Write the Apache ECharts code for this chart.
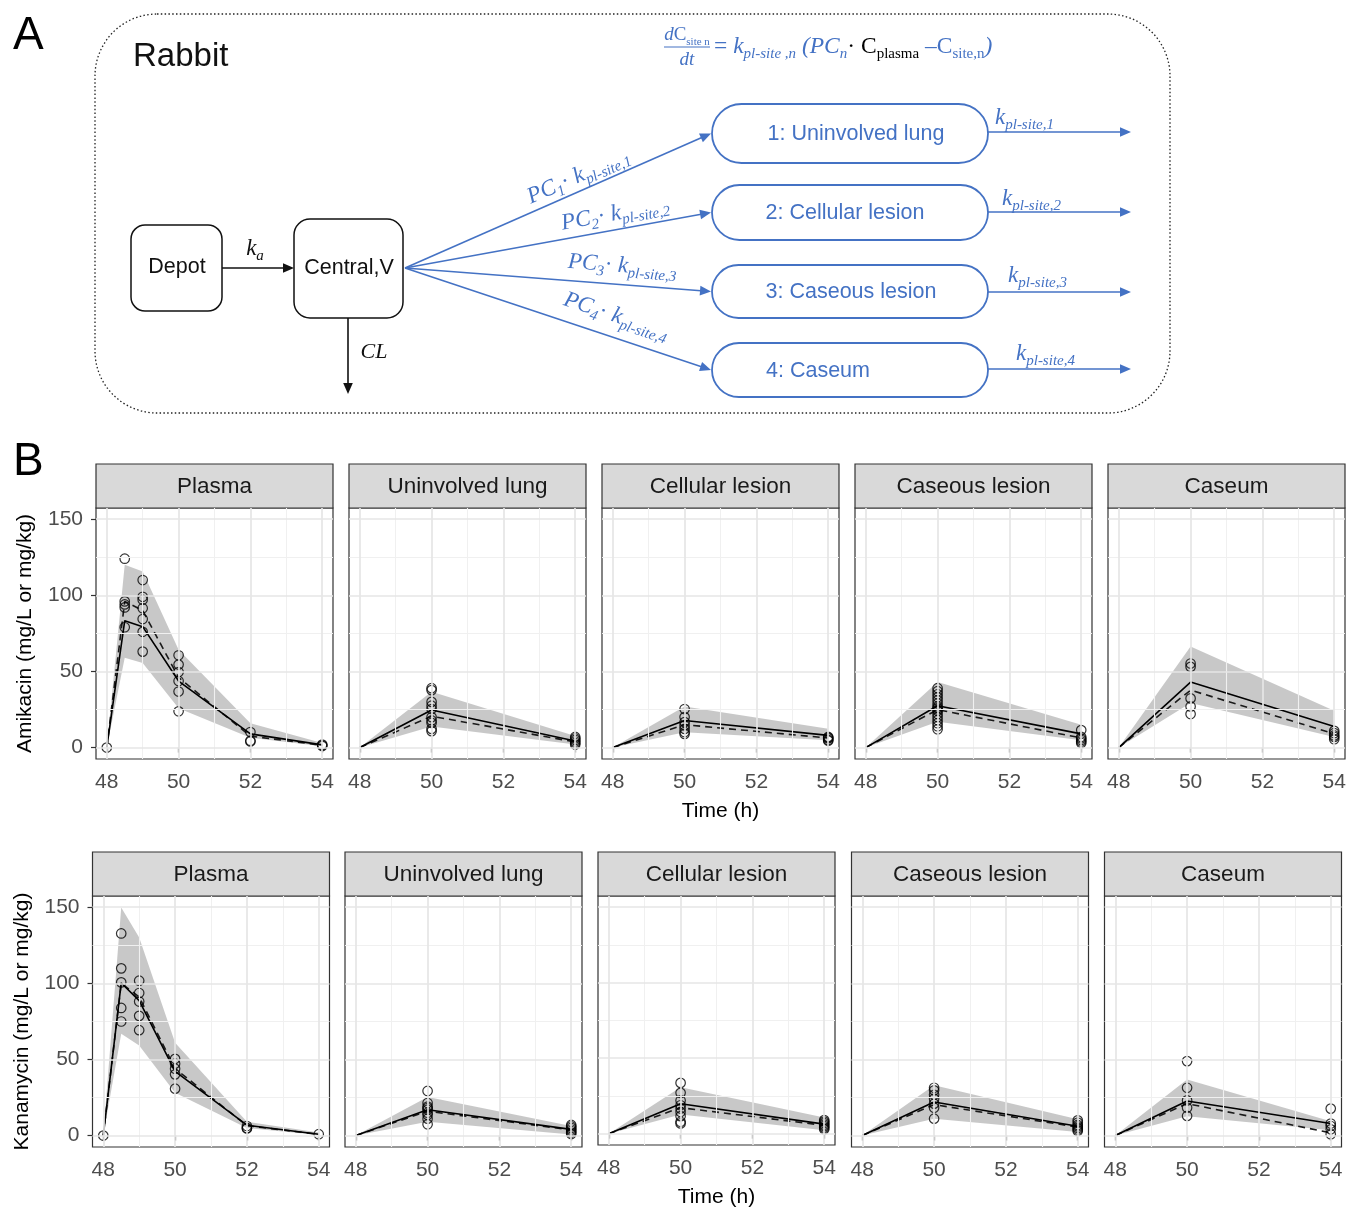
<!DOCTYPE html>
<html><head><meta charset="utf-8">
<script src="https://cdn.jsdelivr.net/npm/echarts@6/dist/echarts.min.js"></script>
<style>html,body{margin:0;padding:0;background:#fff}#c{width:1349px;height:1209px}</style>
</head><body><div id="c"></div><script>
// ---------------- DATA ----------------
const plasmaTimes = [48, 48.5, 49, 50, 52, 54];
const tissueTimes = [48, 50, 54];
const facetNames = ['Plasma', 'Uninvolved lung', 'Cellular lesion', 'Caseous lesion', 'Caseum'];
const xTickValues = [48, 50, 52, 54];
const xMinorValues = [49, 51, 53];
const yTickValues = [0, 50, 100, 150];
const yMinorValues = [25, 75, 125];
const yTitles = ['Amikacin (mg/L or mg/kg)', 'Kanamycin (mg/L or mg/kg)'];
const xTitle = 'Time (h)';

// Amikacin
const amkPlasmaMed  = [0, 83.3, 79.4, 43.7, 9, 1.8];
const amkPlasmaDash = [0, 96, 90, 46, 7.5, 1.5];
const amkPlasmaLo   = [0, 59, 55.6, 25.8, 6.5, 0.8];
const amkPlasmaHi   = [0, 120, 115.6, 64.3, 16, 3];
const amkPlasmaObs  = [[0], [124, 96, 94, 92, 79], [110, 99, 97, 91.5, 84.4, 76, 63], [60.6, 54.5, 49.6, 43.7, 36.8, 23.8], [10.2, 4.5, 4], [2, 1.5, 1]];

const amkLungMed  = [0, 24.7, 4.3];
const amkLungDash = [0, 20.6, 3.7];
const amkLungLo   = [0, 13.9, 2];
const amkLungHi   = [0, 36.6, 7.6];
const amkLungObs  = [[], [39, 37.7, 30, 27.5, 25.3, 20, 17.8, 16.2, 12.3, 10.8], [7, 6, 5, 4, 3, 2]];

const amkCellMed  = [0, 17.8, 8];
const amkCellDash = [0, 15, 6.3];
const amkCellLo   = [0, 10, 4.8];
const amkCellHi   = [0, 27, 12.3];
const amkCellObs  = [[], [25.3, 20, 16.7, 14.5, 12.3, 10.2, 9], [7, 6.5, 6, 5, 4.5]];

const amkCasLesMed  = [0, 27.5, 9];
const amkCasLesDash = [0, 24.9, 6.3];
const amkCasLesLo   = [0, 17, 4.8];
const amkCasLesHi   = [0, 43, 15];
const amkCasLesObs  = [[], [39, 37, 35, 33, 31, 29, 27, 26, 25, 24, 22, 20, 18, 16, 14, 12], [11.5, 7, 6, 5, 4, 3]];

const amkCaseumMed  = [0, 43, 13.9];
const amkCaseumDash = [0, 37.7, 9];
const amkCaseumLo   = [0, 29.2, 7];
const amkCaseumHi   = [0, 66.4, 24.2];
const amkCaseumObs  = [[], [55.2, 53, 32.3, 27, 22], [11, 9.5, 8, 7, 5.5]];

// Kanamycin
const kanPlasmaMed  = [0, 100.2, 88.6, 42.1, 6.8, 0.9];
const kanPlasmaDash = [0, 100, 91, 44, 6.5, 0.8];
const kanPlasmaLo   = [0, 66.8, 59.2, 28.2, 5, 0.4];
const kanPlasmaHi   = [0, 149.8, 130, 60.9, 9, 2];
const kanPlasmaObs  = [[0], [132.7, 109.8, 100.6, 83.8, 74.9], [101.7, 93.6, 88, 78.6, 69.2], [50.4, 47.2, 43.9, 40.2, 30.8], [6.3, 5, 4.6], [0.9]];

const kanLungMed  = [0, 17, 4.1];
const kanLungDash = [0, 16, 3.7];
const kanLungLo   = [0, 9, 0.7];
const kanLungHi   = [0, 25.3, 6.3];
const kanLungObs  = [[], [29.3, 21.4, 19, 18.1, 17, 15, 13.6, 11.1, 7.4], [7, 6, 5, 4, 3, 2, 1]];

const kanCellMed  = [0, 19.8, 6.3];
const kanCellDash = [0, 17.2, 5.5];
const kanCellLo   = [0, 12.7, 2.2];
const kanCellHi   = [0, 30.8, 10.7];
const kanCellObs  = [[], [33.6, 27, 22, 18.8, 16.6, 14.4, 11.6, 7.9, 6.8], [9, 8, 7, 6, 5, 4, 3]];

const kanCasLesMed  = [0, 22, 6.1];
const kanCasLesDash = [0, 20.3, 5.6];
const kanCasLesLo   = [0, 11.1, 2.4];
const kanCasLesHi   = [0, 33, 10.7];
const kanCasLesObs  = [[], [31.4, 29.7, 26.8, 24.2, 21, 18.3, 11.1], [10, 8.5, 7, 6, 5, 4, 3]];

const kanCaseumMed  = [0, 22.7, 7.9];
const kanCaseumDash = [0, 21, 1.8];
const kanCaseumLo   = [0, 12.7, 3.5];
const kanCaseumHi   = [0, 36.9, 9.4];
const kanCaseumObs  = [[], [48.9, 31.4, 23.1, 18.3, 12.9], [17.7, 7.9, 6.3, 4.1, 0.9]];

const panels = [
  {t: plasmaTimes, med: amkPlasmaMed, dash: amkPlasmaDash, lo: amkPlasmaLo, hi: amkPlasmaHi, obs: amkPlasmaObs},
  {t: tissueTimes, med: amkLungMed, dash: amkLungDash, lo: amkLungLo, hi: amkLungHi, obs: amkLungObs},
  {t: tissueTimes, med: amkCellMed, dash: amkCellDash, lo: amkCellLo, hi: amkCellHi, obs: amkCellObs},
  {t: tissueTimes, med: amkCasLesMed, dash: amkCasLesDash, lo: amkCasLesLo, hi: amkCasLesHi, obs: amkCasLesObs},
  {t: tissueTimes, med: amkCaseumMed, dash: amkCaseumDash, lo: amkCaseumLo, hi: amkCaseumHi, obs: amkCaseumObs},
  {t: plasmaTimes, med: kanPlasmaMed, dash: kanPlasmaDash, lo: kanPlasmaLo, hi: kanPlasmaHi, obs: kanPlasmaObs},
  {t: tissueTimes, med: kanLungMed, dash: kanLungDash, lo: kanLungLo, hi: kanLungHi, obs: kanLungObs},
  {t: tissueTimes, med: kanCellMed, dash: kanCellDash, lo: kanCellLo, hi: kanCellHi, obs: kanCellObs},
  {t: tissueTimes, med: kanCasLesMed, dash: kanCasLesDash, lo: kanCasLesLo, hi: kanCasLesHi, obs: kanCasLesObs},
  {t: tissueTimes, med: kanCaseumMed, dash: kanCaseumDash, lo: kanCaseumLo, hi: kanCaseumHi, obs: kanCaseumObs}
];

// ---------------- LAYOUT / STYLE ----------------
const SANS = '"Liberation Sans", Arial, Helvetica, sans-serif';
const SERIF = '"Liberation Serif", "DejaVu Serif", serif';
const BLUE = '#4472C4';
const INK = '#111';
const colLeft = [[96, 349, 602, 855, 1108], [92.5, 345, 598, 851.5, 1104.5]];
const rowTop = [508, 896];
const plotW = 237, plotH = 251, stripH = 44;
const xRange = [47.7, 54.3];
const yRange = [-7.5, 157.3];

const grids = [], xAxes = [], yAxes = [], series = [], graphics = [];

panels.forEach((p, i) => {
  const row = Math.floor(i / 5), col = i % 5;
  const left = colLeft[row][col], top = rowTop[row];
  grids.push({left: left, top: top, width: plotW, height: plotH, show: true,
    borderColor: '#333', borderWidth: 1.2, backgroundColor: '#fff', containLabel: false});
  xAxes.push({type: 'value', gridIndex: i, min: xRange[0], max: xRange[1],
    axisLine: {show: false}, splitLine: {show: false},
    axisTick: {show: true, length: 5, customValues: xTickValues, lineStyle: {color: '#333', width: 1.2}},
    axisLabel: {show: true, customValues: xTickValues, color: '#4d4d4d', fontSize: 21, fontFamily: SANS, margin: 13},
    name: col === 2 ? xTitle : '', nameLocation: 'middle', nameGap: 42,
    nameTextStyle: {fontSize: 21, color: '#000', fontFamily: SANS}});
  yAxes.push({type: 'value', gridIndex: i, min: yRange[0], max: yRange[1],
    axisLine: {show: false}, splitLine: {show: false},
    axisTick: {show: col === 0, length: 5, customValues: yTickValues, lineStyle: {color: '#333', width: 1.2}},
    axisLabel: {show: col === 0, customValues: yTickValues, color: '#4d4d4d', fontSize: 21, fontFamily: SANS, margin: 13},
    name: col === 0 ? yTitles[row] : '', nameLocation: 'middle', nameGap: 60,
    nameTextStyle: {fontSize: 21, color: '#000', fontFamily: SANS}});

  // grid lines (major + minor) via markLine
  const ml = [];
  xMinorValues.forEach(v => ml.push({xAxis: v, lineStyle: {color: '#f0f0f0', width: 1.1, type: 'solid'}}));
  yMinorValues.forEach(v => ml.push({yAxis: v, lineStyle: {color: '#f0f0f0', width: 1.1, type: 'solid'}}));
  xTickValues.forEach(v => ml.push({xAxis: v, lineStyle: {color: '#e6e6e6', width: 1.7, type: 'solid'}}));
  yTickValues.forEach(v => ml.push({yAxis: v, lineStyle: {color: '#e6e6e6', width: 1.7, type: 'solid'}}));
  series.push({type: 'line', xAxisIndex: i, yAxisIndex: i, data: [], silent: true, z: 1,
    markLine: {silent: true, symbol: ['none', 'none'], label: {show: false}, animation: false, data: ml}});

  // ribbon
  series.push({type: 'custom', xAxisIndex: i, yAxisIndex: i, z: 2, silent: true,
    data: p.t.map((t, k) => [t, p.lo[k], p.hi[k]]),
    encode: {x: 0, y: [1, 2]},
    renderItem: function (params, api) {
      if (params.dataIndex !== 0) return null;
      const pts = [];
      for (let k = 0; k < p.t.length; k++) pts.push(api.coord([p.t[k], p.hi[k]]));
      for (let k = p.t.length - 1; k >= 0; k--) pts.push(api.coord([p.t[k], p.lo[k]]));
      return {type: 'polygon', shape: {points: pts}, style: {fill: 'rgba(130,130,130,0.44)'}};
    }});

  // dashed line
  series.push({type: 'line', xAxisIndex: i, yAxisIndex: i, z: 3, silent: true, symbol: 'none',
    data: p.t.map((t, k) => [t, p.dash[k]]),
    lineStyle: {color: '#1a1a1a', width: 1.6, type: [7, 5]}});
  // median line
  series.push({type: 'line', xAxisIndex: i, yAxisIndex: i, z: 3, silent: true, symbol: 'none',
    data: p.t.map((t, k) => [t, p.med[k]]),
    lineStyle: {color: '#000', width: 1.6}});
  // observations
  const pts = [];
  p.t.forEach((t, k) => p.obs[k].forEach(v => pts.push([t, v])));
  series.push({type: 'scatter', xAxisIndex: i, yAxisIndex: i, z: 4, silent: true,
    symbol: 'circle', symbolSize: 9.5, data: pts,
    itemStyle: {color: 'rgba(0,0,0,0)', borderColor: '#000', borderWidth: 1.2}});

  // strip header
  graphics.push({type: 'rect', shape: {x: left, y: top - stripH, width: plotW, height: stripH},
    style: {fill: '#d9d9d9', stroke: '#333', lineWidth: 1.2}, z: 5});
  graphics.push({type: 'text', x: left + plotW / 2, y: top - stripH / 2 + 1,
    style: {text: facetNames[col], fill: '#1a1a1a', fontSize: 22.5, fontFamily: SANS, align: 'center', verticalAlign: 'middle'}, z: 6});
});

// ---------------- DIAGRAM (panel A) ----------------
function rich(color, main, sub) {
  return {
    i: {fontFamily: SERIF, fontStyle: 'italic', fontSize: main, fill: color, lineHeight: main + 6},
    u: {fontFamily: SERIF, fontSize: main, fill: color, lineHeight: main + 6},
    s: {fontFamily: SERIF, fontSize: sub, fill: color, verticalAlign: 'bottom', lineHeight: sub + 2},
    si: {fontFamily: SERIF, fontStyle: 'italic', fontSize: sub, fill: color, verticalAlign: 'bottom', lineHeight: sub + 2},
    k: {fontFamily: SERIF, fontSize: main, fill: '#000', lineHeight: main + 6},
    ks: {fontFamily: SERIF, fontSize: sub, fill: '#000', verticalAlign: 'bottom', lineHeight: sub + 2}
  };
}
function rtext(x, y, str, r, align, rot) {
  return {type: 'text', x: x, y: y, rotation: rot || 0, z: 10,
    style: {text: str, rich: r, align: align || 'center', verticalAlign: 'middle', fontFamily: SERIF}};
}
function arrow(x1, y1, x2, y2, color, w) {
  const dx = x2 - x1, dy = y2 - y1, L = Math.sqrt(dx * dx + dy * dy);
  const ux = dx / L, uy = dy / L, hl = 11, hw = 4.8;
  const bx = x2 - ux * hl, by = y2 - uy * hl;
  return [
    {type: 'line', shape: {x1: x1, y1: y1, x2: bx + ux * 1, y2: by + uy * 1}, style: {stroke: color, lineWidth: w || 1.6}, z: 10},
    {type: 'polygon', shape: {points: [[x2, y2], [bx - uy * hw, by + ux * hw], [bx + uy * hw, by - ux * hw]]}, style: {fill: color}, z: 10}
  ];
}
function sansText(x, y, str, size, color, align) {
  return {type: 'text', x: x, y: y, z: 10,
    style: {text: str, fill: color, fontSize: size, fontFamily: SANS, align: align || 'center', verticalAlign: 'middle'}};
}

graphics.push({type: 'text', x: 13, y: 36, z: 10, style: {text: 'A', fill: '#000', fontSize: 46, fontFamily: SANS, align: 'left', verticalAlign: 'middle'}});
graphics.push({type: 'text', x: 13, y: 462, z: 10, style: {text: 'B', fill: '#000', fontSize: 46, fontFamily: SANS, align: 'left', verticalAlign: 'middle'}});

graphics.push({type: 'rect', shape: {x: 95, y: 14, width: 1075, height: 399, r: 62}, z: 9,
  style: {fill: 'none', stroke: '#222', lineWidth: 1.3, lineDash: [1.5, 2.3]}});
graphics.push(sansText(133, 57, 'Rabbit', 33, INK, 'left'));

// Depot & Central
graphics.push({type: 'rect', shape: {x: 131, y: 225, width: 91, height: 86, r: 14}, z: 10, style: {fill: 'none', stroke: INK, lineWidth: 1.5}});
graphics.push(sansText(177, 267, 'Depot', 21.5, INK));
graphics.push({type: 'rect', shape: {x: 294, y: 219, width: 109, height: 99, r: 16}, z: 10, style: {fill: 'none', stroke: INK, lineWidth: 1.5}});
graphics.push(sansText(349, 268, 'Central,V', 21.5, INK));
arrow(222, 268, 294, 268, INK).forEach(g => graphics.push(g));
graphics.push(rtext(255, 249, '{i|k}{si|a}', rich(INK, 23, 15)));
arrow(348, 318, 348, 394, INK).forEach(g => graphics.push(g));
graphics.push(rtext(374, 352, '{i|CL}', rich(INK, 22, 14)));

// compartments
const compY = [[104, 59], [185, 55], [265, 53], [343, 54]];
const compText = ['1: Uninvolved lung', '2: Cellular lesion', '3: Caseous lesion', '4: Caseum'];
const compTextX = [856, 845, 851, 818];
const outY = [132, 212, 292, 369];
const kLabX = [995, 1002, 1008, 1016];
const kLabY = [118, 199, 276, 354];
const inLab = [[580, 180], [616, 218], [622, 270], [615, 320]];
compY.forEach((c, n) => {
  const cy = c[0] + c[1] / 2;
  graphics.push({type: 'rect', shape: {x: 712, y: c[0], width: 276, height: c[1], r: c[1] / 2}, z: 10,
    style: {fill: '#fff', stroke: BLUE, lineWidth: 1.8}});
  graphics.push(sansText(compTextX[n], cy + 1, compText[n], 21.5, BLUE));
  arrow(405, 268, 711, cy, BLUE).forEach(g => graphics.push(g));
  arrow(988, outY[n], 1131, outY[n], BLUE).forEach(g => graphics.push(g));
  graphics.push(rtext(kLabX[n], kLabY[n], '{i|k}{si|pl-site,' + (n + 1) + '}', rich(BLUE, 23, 15), 'left'));
  const dx = 711 - 405, dy = cy - 268, L = Math.sqrt(dx * dx + dy * dy);
  const ang = -Math.atan2(dy, dx);
  const off = 4;
  graphics.push(rtext(inLab[n][0] + off * dy / L, inLab[n][1] - off * dx / L,
    '{i|PC}{si|' + (n + 1) + '}{u|· }{i|k}{si|pl-site,' + (n + 1) + '}', rich(BLUE, 23, 15), 'center', ang));
});

// equation
graphics.push(rtext(687, 35, '{i|d}{u|C}{s|site n}', rich(BLUE, 19, 11)));
graphics.push({type: 'line', shape: {x1: 664, y1: 47, x2: 710, y2: 47}, style: {stroke: BLUE, lineWidth: 1.1}, z: 10});
graphics.push(rtext(687, 60, '{i|dt}', rich(BLUE, 19, 11)));
graphics.push(rtext(714, 47, '{u|= }{i|k}{si|pl-site ,n}{i| (PC}{si|n}{k|· C}{ks|plasma}{u| –C}{s|site,n}{i|)}', rich(BLUE, 23.5, 15), 'left'));

const chart = echarts.init(document.getElementById('c'), null, {renderer: 'canvas'});
chart.setOption({
  animation: false,
  backgroundColor: '#fff',
  grid: grids, xAxis: xAxes, yAxis: yAxes, series: series,
  graphic: {elements: graphics}
});
</script></body></html>
